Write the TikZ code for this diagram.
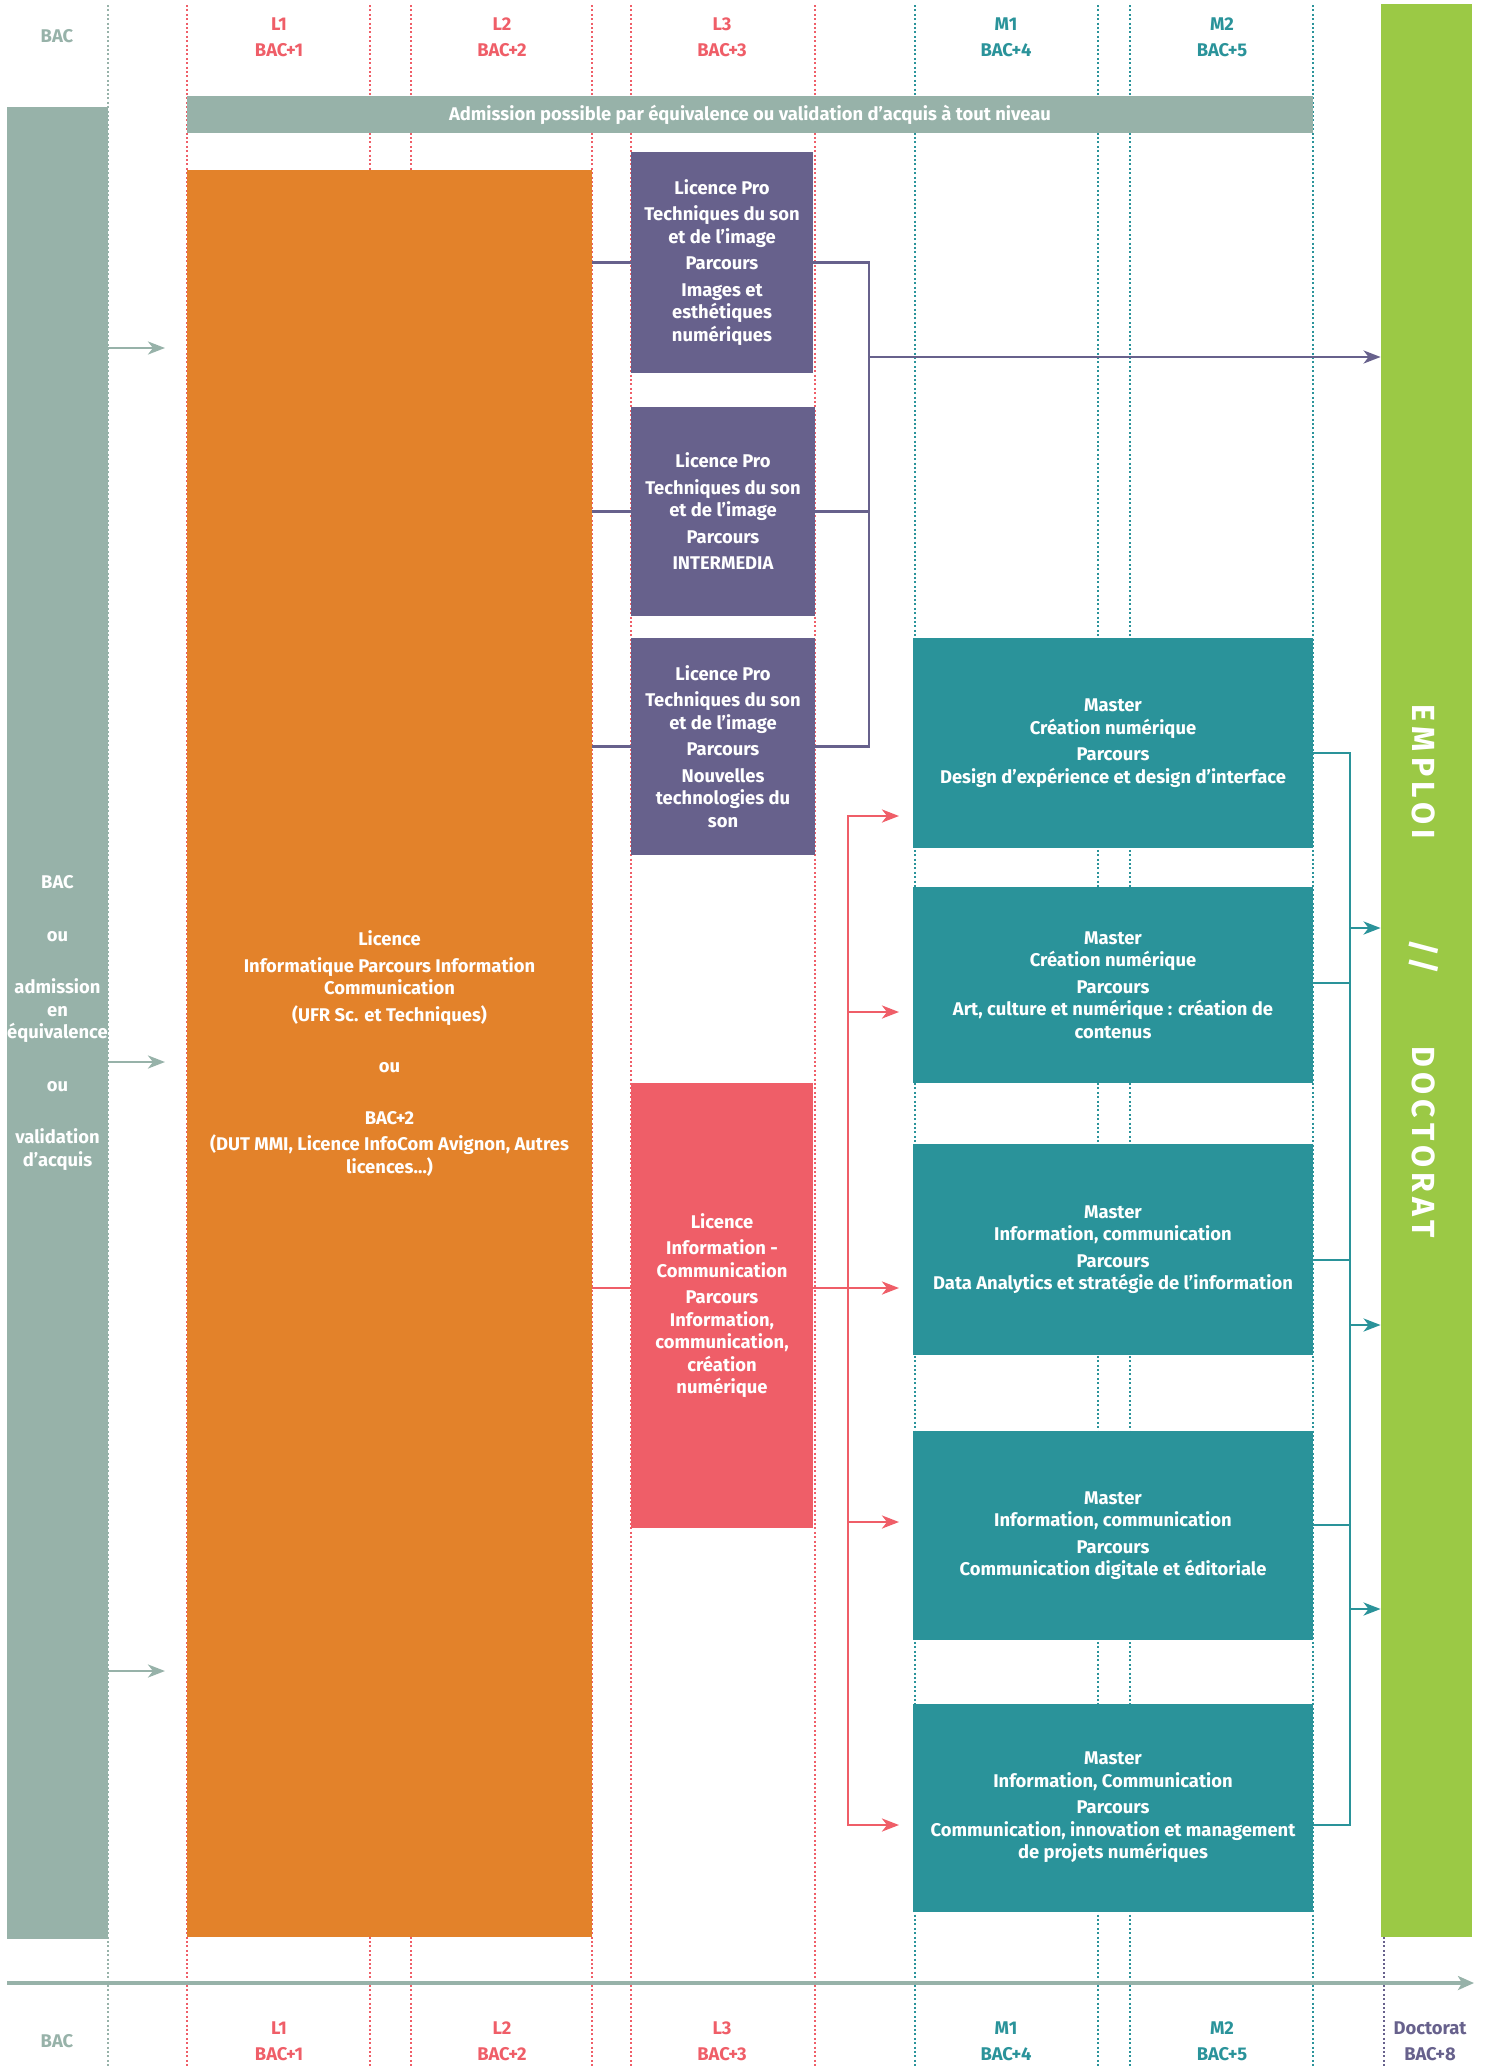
\documentclass[tikz,border=0pt]{standalone}
\usepackage{fontspec}
\setmainfont{Fira Sans}
\usepackage{tikz}
\usetikzlibrary{positioning}
\usetikzlibrary{arrows.meta}
\usepackage{xcolor}

\definecolor{cgris}{HTML}{97B2A9}
\definecolor{corange}{HTML}{E3822A}
\definecolor{cviolet}{HTML}{67618C}
\definecolor{crouge}{HTML}{EF5E68}
\definecolor{cteal}{HTML}{2A939A}
\definecolor{cvert}{HTML}{9BC945}

\begin{document}
\begin{tikzpicture}[x=0.5pt,y=-0.5pt,
  box/.style={rectangle, inner sep=0pt, align=center, text=white,
    font=\bfseries\fontsize{9.2}{11.25}\selectfont},
  niveau/.style={align=center, inner sep=0pt, font=\bfseries\fontsize{9.2}{13}\selectfont},
  lien/.style={line width=1.4pt},
  fleche/.style={line width=1.4pt, -{Stealth[length=8.5pt,width=6.5pt,inset=2.5pt]}},
  pointille/.style={line width=1pt, dash pattern=on 1pt off 1.2pt}]
\useasboundingbox (0,0) rectangle (1488,2067);

% colonnes
\draw[pointille, cgris] (108,5) -- (108,2067);
\foreach \x in {187,370,411,592,631,815}
  \draw[pointille, crouge] (\x,5) -- (\x,2067);
\foreach \x in {915,1098,1130,1313}
  \draw[pointille, cteal] (\x,5) -- (\x,2067);
\draw[pointille, cviolet] (1384,5) -- (1384,2067);

% niveaux en haut
\node[niveau, text=cgris] (hbac) at (57,36) {BAC};
\node[niveau, text=crouge] (hl1) at (279,37) {L1\\BAC+1};
\node[niveau, text=crouge] (hl2) at (502,37) {L2\\BAC+2};
\node[niveau, text=crouge] (hl3) at (722,37) {L3\\BAC+3};
\node[niveau, text=cteal] (hm1) at (1006,37) {M1\\BAC+4};
\node[niveau, text=cteal] (hm2) at (1222,37) {M2\\BAC+5};

% barres
\node[box, fill=cgris, minimum width=563pt, minimum height=18.5pt] (admission) at (750,114.5)
  {Admission possible par équivalence ou validation d’acquis à tout niveau};
\node[box, fill=cgris, minimum width=50.5pt, minimum height=916pt] (bacbar) at (57.5,1023)
  {BAC\\[15pt]ou\\[15pt]admission\\en\\équivalence\\[15pt]ou\\[15pt]validation\\d’acquis};
\node[box, fill=cvert, minimum width=45.5pt, minimum height=966.5pt] (emploi) at (1426.5,970.5) {};
\node[text=white, rotate=-90, inner sep=0pt,
  font=\bfseries\fontsize{16}{16}\selectfont\addfontfeature{LetterSpace=17}] (emploitxt) at (1424,971)
  {EMPLOI\hspace{50pt}//\hspace{36pt}DOCTORAT};

% licences
\node[box, fill=corange, minimum width=202.5pt, minimum height=883.5pt] (licence) at (389.5,1053.5)
  {Licence\\[2pt]Informatique Parcours Information\\Communication\\[2pt](UFR Sc. et Techniques)\\[14.5pt]ou\\[14.5pt]BAC+2\\[2pt](DUT MMI, Licence InfoCom Avignon, Autres\\licences…)};
\node[box, fill=cviolet, minimum width=91pt, minimum height=110.5pt] (lp1) at (722,262.5)
  {Licence Pro\\[2pt]Techniques du son\\et de l’image\\[2pt]Parcours\\[2pt]Images et\\esthétiques\\numériques};
\node[box, fill=cviolet, minimum width=92pt, minimum height=104.5pt] (lp2) at (723,511.5)
  {Licence Pro\\[2pt]Techniques du son\\et de l’image\\[2pt]Parcours\\[2pt]INTERMEDIA};
\node[box, fill=cviolet, minimum width=92pt, minimum height=108.5pt] (lp3) at (723,746.5)
  {Licence Pro\\[2pt]Techniques du son\\et de l’image\\[2pt]Parcours\\[2pt]Nouvelles\\technologies du\\son};
\node[box, fill=crouge, minimum width=91pt, minimum height=222.5pt] (lic) at (722,1305.5)
  {Licence\\[2pt]Information -\\Communication\\[2pt]Parcours\\Information,\\communication,\\création\\numérique};

% masters
\node[box, fill=cteal, minimum width=200pt, minimum height=105pt] (m1) at (1113,743)
  {Master\\Création numérique\\[2pt]Parcours\\Design d’expérience et design d’interface};
\node[box, fill=cteal, minimum width=200pt, minimum height=98pt] (m2) at (1113,985)
  {Master\\Création numérique\\[2pt]Parcours\\Art, culture et numérique : création de\\contenus};
\node[box, fill=cteal, minimum width=200pt, minimum height=105.5pt] (m3) at (1113,1249.5)
  {Master\\Information, communication\\[2pt]Parcours\\Data Analytics et stratégie de l’information};
\node[box, fill=cteal, minimum width=200pt, minimum height=104.5pt] (m4) at (1113,1535.5)
  {Master\\Information, communication\\[2pt]Parcours\\Communication digitale et éditoriale};
\node[box, fill=cteal, minimum width=200pt, minimum height=104pt] (m5) at (1113,1807.5)
  {Master\\Information, Communication\\[2pt]Parcours\\Communication, innovation et management\\de projets numériques};

% entrees
\coordinate (g1) at (165,348);
\coordinate (g2) at (165,1062);
\coordinate (g3) at (165,1671);
\foreach \g in {g1,g2,g3}
  \draw[fleche, cgris] (\g -| bacbar.east) -- (\g);

% licences pro -> emploi
\coordinate (pv) at (869,357);
\draw[lien, cviolet] (lp1.west -| licence.east) -- (lp1.west);
\draw[lien, cviolet] (lp2.west -| licence.east) -- (lp2.west);
\draw[lien, cviolet] (lp3.west -| licence.east) -- (lp3.west);
\draw[lien, cviolet] (lp1.east) -| (pv |- lp3.east) -- (lp3.east);
\draw[lien, cviolet] (lp2.east) -- (lp2.east -| pv);
\draw[fleche, cviolet] (pv) -- (pv -| emploi.west);

% licence -> masters
\coordinate (rv) at (848,1288);
\coordinate (a1) at (899,816);
\coordinate (a2) at (899,1012);
\coordinate (a3) at (899,1288);
\coordinate (a4) at (899,1522);
\coordinate (a5) at (899,1825);
\draw[lien, crouge] (rv -| licence.east) -- (rv -| lic.west);
\draw[fleche, crouge] (rv -| lic.east) -- (a3);
\draw[lien, crouge, line cap=rect] (rv |- a1) -- (rv |- a5);
\foreach \a in {a1,a2,a4,a5}
  \draw[fleche, crouge] (rv |- \a) -- (\a);

% masters -> emploi
\coordinate (t1) at (1350,753);
\coordinate (t2) at (1350,983);
\coordinate (t3) at (1350,1260);
\coordinate (t4) at (1350,1525);
\coordinate (t5) at (1350,1825);
\foreach \i in {1,...,5}
  \draw[lien, cteal] (t\i -| m\i.east) -- (t\i);
\draw[lien, cteal, line cap=rect] (t1) -- (t5);
\coordinate (e1) at (1350,928);
\coordinate (e2) at (1350,1325);
\coordinate (e3) at (1350,1609);
\foreach \e in {e1,e2,e3}
  \draw[fleche, cteal] (\e) -- (\e -| emploi.west);

% axe
\coordinate (ax0) at (7,1983);
\coordinate (ax1) at (1474,1983);
\draw[line width=2pt, cgris, -{Stealth[length=8pt,width=7pt,inset=2pt]}] (ax0) -- (ax1);

% niveaux en bas
\node[niveau, text=cgris] (bbac) at (57,2041) {BAC};
\node[niveau, text=crouge] (bl1) at (279,2041) {L1\\BAC+1};
\node[niveau, text=crouge] (bl2) at (502,2041) {L2\\BAC+2};
\node[niveau, text=crouge] (bl3) at (722,2041) {L3\\BAC+3};
\node[niveau, text=cteal] (bm1) at (1006,2041) {M1\\BAC+4};
\node[niveau, text=cteal] (bm2) at (1222,2041) {M2\\BAC+5};
\node[niveau, text=cviolet] (bdoc) at (1430,2041) {Doctorat\\BAC+8};
\end{tikzpicture}
\end{document}
